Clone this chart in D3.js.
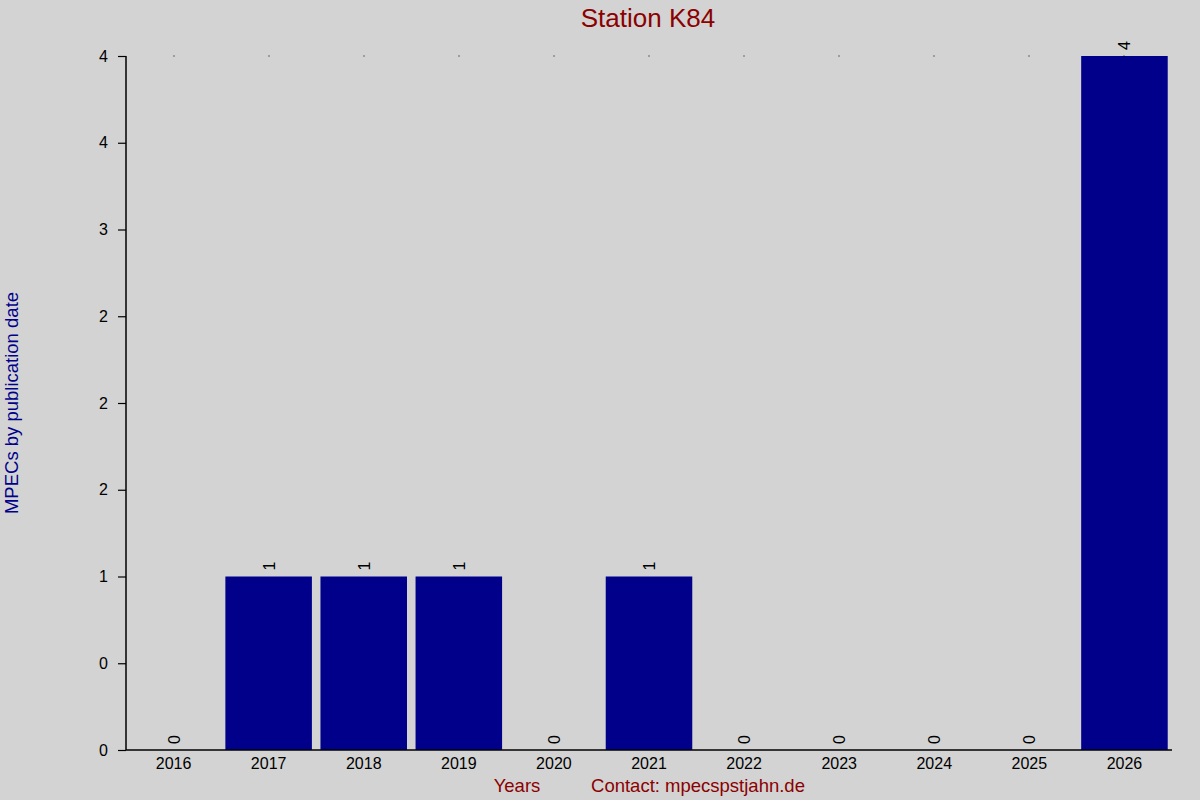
<!DOCTYPE html>
<html>
<head>
<meta charset="utf-8">
<script src="https://cdn.jsdelivr.net/npm/d3@7"></script>
<style>
  body { margin: 0; background: #d3d3d3; }
  svg { display: block; font-family: "Liberation Sans", Arial, sans-serif; }
</style>
</head>
<body>
<div class="canvas"></div>
<script>
// chart data
const years = ['2016', '2017', '2018', '2019', '2020', '2021', '2022', '2023', '2024', '2025', '2026'];
const counts = [0, 1, 1, 1, 0, 1, 0, 0, 0, 0, 4];
const yTickValues = [0, 0.5, 1, 1.5, 2, 2.5, 3, 3.5, 4];
const yTickLabels = ['0', '0', '1', '2', '2', '2', '3', '4', '4'];

const width = 1200;
const height = 800;
const margin = { top: 56, right: 28, bottom: 50, left: 126 };
const graphWidth = width - margin.left - margin.right;
const graphHeight = height - margin.top - margin.bottom;

const svg = d3.select('.canvas')
    .append('svg')
        .attr('width', width)
        .attr('height', height);

svg.append('rect')
    .attr('width', width)
    .attr('height', height)
    .attr('fill', '#d3d3d3');

const graph = svg.append('g')
    .attr('transform', `translate(${margin.left}, ${margin.top})`);

// scales
const x = d3.scaleBand()
    .domain(years)
    .range([0, graphWidth])
    .paddingInner(0.09)
    .paddingOuter(0.045);

const y = d3.scaleLinear()
    .domain([0, 4])
    .range([graphHeight, 0]);

// bars
graph.selectAll('rect.bar')
    .data(counts)
    .enter()
    .append('rect')
        .attr('class', 'bar')
        .attr('x', (d, i) => x(years[i]))
        .attr('y', d => y(d))
        .attr('width', x.bandwidth())
        .attr('height', d => graphHeight - y(d))
        .attr('fill', '#00008b');

// small markers along the top
graph.selectAll('rect.dot')
    .data(years)
    .enter()
    .append('rect')
        .attr('class', 'dot')
        .attr('x', d => Math.round(x(d) + x.bandwidth() / 2) - 0.5)
        .attr('y', y(4) - 0.5)
        .attr('width', 1)
        .attr('height', 1)
        .attr('fill', '#000');

// value labels (rotated)
graph.selectAll('text.value')
    .data(counts)
    .enter()
    .append('text')
        .attr('class', 'value')
        .attr('transform', (d, i) => `translate(${x(years[i]) + x.bandwidth() / 2 + 6}, ${y(d) - 6}) rotate(-90)`)
        .attr('font-size', 16)
        .attr('fill', '#000')
        .text(d => d);

// axes
const xAxis = d3.axisBottom(x).tickSize(0).tickPadding(8);
const yAxis = d3.axisLeft(y)
    .tickValues(yTickValues)
    .tickSize(8)
    .tickPadding(10)
    .tickFormat((d, i) => yTickLabels[i]);

const xAxisGroup = graph.append('g')
    .attr('transform', `translate(0, ${graphHeight})`)
    .call(xAxis);

const yAxisGroup = graph.append('g')
    .call(yAxis);

[xAxisGroup, yAxisGroup].forEach(g => {
    g.select('.domain').attr('stroke', '#000').attr('stroke-width', 1.5);
    g.selectAll('text')
        .attr('font-size', 16)
        .attr('font-family', '"Liberation Sans", Arial, sans-serif')
        .attr('fill', '#000');
});
xAxisGroup.select('.domain').attr('d', `M0,0H${graphWidth}`);
yAxisGroup.select('.domain').attr('d', `M0,${graphHeight}V0`);
yAxisGroup.selectAll('.tick line').attr('stroke', '#000').attr('stroke-width', 1.2);

// titles
svg.append('text')
    .attr('x', 648)
    .attr('y', 27)
    .attr('text-anchor', 'middle')
    .attr('font-size', 26)
    .attr('fill', '#8b0000')
    .text('Station K84');

svg.append('text')
    .attr('transform', 'translate(18, 403) rotate(-90)')
    .attr('text-anchor', 'middle')
    .attr('font-size', 18.5)
    .attr('fill', '#00008b')
    .text('MPECs by publication date');

svg.append('text')
    .attr('x', 517)
    .attr('y', 792)
    .attr('text-anchor', 'middle')
    .attr('font-size', 18.5)
    .attr('fill', '#8b0000')
    .text('Years');

svg.append('text')
    .attr('x', 698)
    .attr('y', 792)
    .attr('text-anchor', 'middle')
    .attr('font-size', 18.5)
    .attr('fill', '#8b0000')
    .text('Contact: mpecspstjahn.de');
</script>
</body>
</html>
